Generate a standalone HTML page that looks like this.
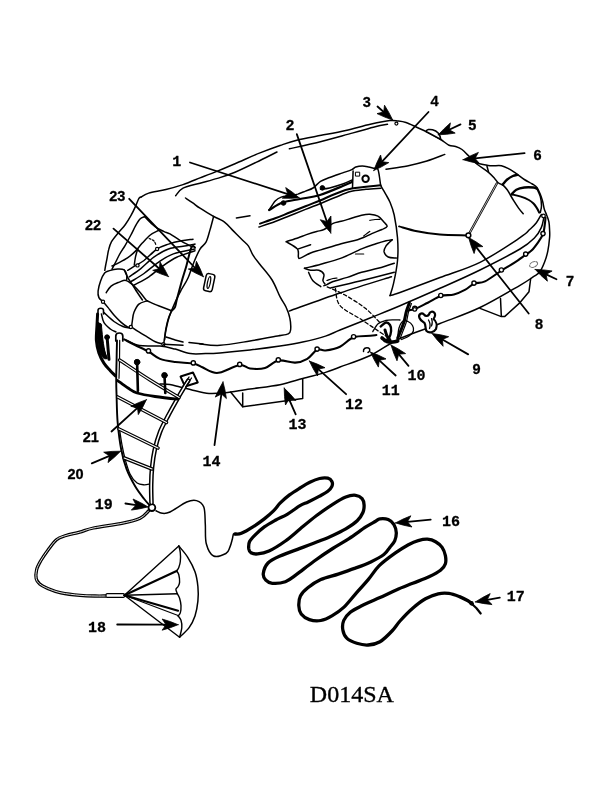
<!DOCTYPE html>
<html><head><meta charset="utf-8"><style>
html,body{margin:0;padding:0;background:#fff;}
body{width:612px;height:792px;overflow:hidden;}
svg{display:block;transform:translateZ(0);}
</style></head><body>
<svg width="612" height="792" viewBox="0 0 612 792" stroke-linecap="round" stroke-linejoin="round">
<path d="M235.0,534.0C236.1,533.9 238.4,534.5 241.4,533.3C244.4,532.1 249.1,529.3 252.9,526.9C256.7,524.5 260.9,521.6 264.3,518.9C267.7,516.2 270.8,513.6 273.5,510.9C276.2,508.2 277.6,505.6 280.3,502.9C283.0,500.2 286.2,497.4 289.5,494.9C292.8,492.4 296.6,490.1 300.0,488.0C303.4,485.9 306.5,483.9 309.8,482.3C313.1,480.7 316.6,479.2 319.6,478.5C322.6,477.8 325.8,477.7 327.8,478.2C329.9,478.7 331.2,480.0 331.9,481.4C332.6,482.8 332.6,484.7 331.9,486.3C331.2,487.9 329.9,489.6 327.8,491.2C325.8,492.8 322.9,494.3 319.6,496.1C316.3,497.9 311.5,500.3 308.2,501.9C304.9,503.5 303.5,503.6 300.0,505.7C296.5,507.8 291.2,511.9 287.2,514.3C283.2,516.7 279.6,517.9 275.8,520.0C272.0,522.1 267.7,524.4 264.3,526.9C260.9,529.4 257.7,532.4 255.2,534.9C252.7,537.4 250.6,539.4 249.5,541.8C248.4,544.1 248.6,547.2 248.8,549.0C249.1,550.8 249.5,552.0 251.0,552.8C252.5,553.6 254.6,554.2 257.6,553.9C260.6,553.6 264.4,553.1 269.0,551.0C273.6,548.9 280.2,544.7 285.4,541.0C290.6,537.3 294.9,533.2 300.0,529.0C305.1,524.8 310.9,519.9 316.3,515.8C321.8,511.7 327.8,507.4 332.7,504.3C337.6,501.2 342.0,498.5 345.8,497.0C349.6,495.5 352.9,495.0 355.6,495.3C358.3,495.6 360.7,497.0 362.1,498.6C363.5,500.2 364.0,502.8 364.1,505.1C364.2,507.4 364.0,509.9 362.9,512.5C361.8,515.1 360.0,518.0 357.2,520.7C354.4,523.4 349.9,526.3 345.8,528.8C341.7,531.2 337.0,533.4 332.7,535.4C328.4,537.4 325.4,538.6 320.0,540.8C314.6,543.0 306.7,545.9 300.0,548.4C293.3,550.9 285.3,553.6 280.0,556.0C274.7,558.4 270.8,560.1 268.0,563.0C265.2,565.9 263.7,570.6 263.3,573.5C262.9,576.4 264.3,578.5 265.8,580.1C267.3,581.7 269.0,583.0 272.3,583.3C275.6,583.6 281.4,583.1 285.4,581.7C289.4,580.3 291.5,578.2 296.3,574.7C301.1,571.2 308.2,565.4 314.3,561.0C320.4,556.6 326.9,552.2 332.7,548.5C338.5,544.8 343.6,542.1 349.0,538.6C354.4,535.1 361.0,530.1 365.4,527.2C369.8,524.4 372.8,522.9 375.2,521.5C377.6,520.1 377.8,519.1 380.0,518.8C382.2,518.5 385.9,518.6 388.2,519.6C390.5,520.6 392.5,522.3 393.9,524.5C395.2,526.7 396.2,530.0 396.3,532.7C396.4,535.4 395.8,538.3 394.7,540.8C393.6,543.2 391.6,545.1 389.8,547.4C388.0,549.7 387.1,552.1 383.9,554.5C380.7,556.9 375.7,559.6 370.8,561.9C365.9,564.2 359.9,566.4 354.5,568.4C349.1,570.4 343.8,572.2 338.2,574.1C332.6,576.0 325.9,577.3 320.8,579.6C315.7,581.9 311.2,585.1 307.8,587.8C304.4,590.5 301.9,593.0 300.4,596.0C298.9,599.0 298.7,602.8 298.8,605.8C298.9,608.8 299.4,611.6 301.2,613.9C303.0,616.2 306.1,618.5 309.4,619.6C312.7,620.7 317.0,621.2 320.8,620.5C324.6,619.8 328.5,617.8 332.3,615.6C336.1,613.4 339.9,611.0 343.7,607.4C347.5,603.8 351.1,598.9 355.2,594.3C359.3,589.7 364.2,584.3 368.2,579.6C372.2,574.9 374.5,570.4 379.0,565.9C383.5,561.4 390.5,556.4 395.4,552.9C400.3,549.4 404.6,546.8 408.4,544.7C412.2,542.7 415.0,541.5 418.2,540.6C421.4,539.7 424.5,539.0 427.4,539.2C430.3,539.4 433.2,540.3 435.6,541.7C438.1,543.1 440.5,545.1 442.1,547.4C443.7,549.7 444.8,552.9 445.4,555.6C445.9,558.3 446.2,561.2 445.4,563.7C444.6,566.2 443.2,568.1 440.5,570.3C437.8,572.5 433.6,574.6 429.0,576.8C424.4,579.0 418.1,581.1 412.7,583.3C407.2,585.5 401.8,587.5 396.3,589.9C390.9,592.3 385.8,595.0 380.0,597.6C374.2,600.2 366.6,603.3 361.7,605.8C356.8,608.2 353.3,609.8 350.3,612.3C347.3,614.8 344.9,617.5 343.7,620.5C342.5,623.5 342.3,627.3 342.9,630.3C343.4,633.3 344.7,636.2 347.0,638.4C349.3,640.6 353.3,642.2 356.8,643.3C360.3,644.4 364.3,645.3 368.2,645.0C372.1,644.7 376.0,644.0 380.0,641.7C384.0,639.4 388.7,634.5 392.0,631.0C395.3,627.5 396.6,624.8 400.0,621.0C403.4,617.2 408.4,611.9 412.7,608.2C416.9,604.5 421.2,601.1 425.5,598.7C429.8,596.3 434.3,594.7 438.2,593.8C442.1,592.9 445.3,592.9 448.9,593.4C452.4,593.9 456.3,595.4 459.5,596.6C462.7,597.8 465.9,599.6 468.0,600.8C470.1,602.0 471.5,603.5 472.2,604.0" fill="none" stroke="#000" stroke-width="3.3" />
<path d="M472.0,604.0 L476.5,608.2 L480.7,613.5" fill="none" stroke="#000" stroke-width="2.2" />
<circle cx="471.5" cy="603.2" r="1.6" fill="#000" stroke="#000" stroke-width="1.2"/>
<path d="M148.7,510.8C147.3,512.0 144.4,516.2 140.1,518.2C135.8,520.2 130.7,521.5 122.9,523.1C115.1,524.7 100.7,526.5 93.5,528.0C86.3,529.5 84.2,531.0 79.6,532.2C75.0,533.5 69.8,534.2 66.0,535.5C62.1,536.8 59.5,537.2 56.5,539.7C53.5,542.2 50.4,546.9 47.7,550.4C45.1,553.9 42.5,557.8 40.6,561.0C38.8,564.2 37.3,566.8 36.6,569.8C35.9,572.8 35.7,576.3 36.2,578.7C36.7,581.1 37.8,582.4 39.7,584.0C41.6,585.6 44.2,586.9 47.7,588.4C51.2,589.9 55.6,591.6 61.0,592.8C66.4,593.9 74.3,594.8 80.0,595.3C85.7,595.8 90.7,595.9 95.0,596.0C99.3,596.1 104.2,596.0 106.0,596.0" fill="none" stroke="#000" stroke-width="3.3" />
<path d="M148.7,510.8C147.3,512.0 144.4,516.2 140.1,518.2C135.8,520.2 130.7,521.5 122.9,523.1C115.1,524.7 100.7,526.5 93.5,528.0C86.3,529.5 84.2,531.0 79.6,532.2C75.0,533.5 69.8,534.2 66.0,535.5C62.1,536.8 59.5,537.2 56.5,539.7C53.5,542.2 50.4,546.9 47.7,550.4C45.1,553.9 42.5,557.8 40.6,561.0C38.8,564.2 37.3,566.8 36.6,569.8C35.9,572.8 35.7,576.3 36.2,578.7C36.7,581.1 37.8,582.4 39.7,584.0C41.6,585.6 44.2,586.9 47.7,588.4C51.2,589.9 55.6,591.6 61.0,592.8C66.4,593.9 74.3,594.8 80.0,595.3C85.7,595.8 90.7,595.9 95.0,596.0C99.3,596.1 104.2,596.0 106.0,596.0" fill="none" stroke="#fff" stroke-width="0.9" />
<path d="M156.0,510.8C157.0,511.2 159.9,513.1 162.2,513.3C164.5,513.5 165.9,513.9 170.0,512.0C174.1,510.1 182.3,503.9 186.7,502.0C191.1,500.1 193.7,499.8 196.5,500.6C199.3,501.4 202.3,503.1 203.8,507.0C205.3,510.9 204.9,518.0 205.3,524.1C205.7,530.2 204.9,538.4 206.3,543.7C207.7,549.0 210.3,554.4 213.6,556.0C216.9,557.6 223.2,554.9 225.9,553.5C228.6,552.1 228.7,549.8 229.8,547.4C230.9,545.0 231.7,541.4 232.3,539.2C232.9,537.0 233.0,534.8 233.5,534.0C234.0,533.2 235.2,534.4 235.5,534.5" fill="none" stroke="#000" stroke-width="1.5" />
<circle cx="151.9" cy="507.6" r="3.4" fill="#fff" stroke="#000" stroke-width="1.8"/>
<rect x="106" y="593.6" width="18.5" height="3.8" rx="1.2" fill="#fff" stroke="#000" stroke-width="1.2"/>
<path d="M178.8,546.0C180.3,547.9 184.9,552.8 187.6,557.1C190.3,561.4 193.3,566.9 195.0,571.8C196.7,576.7 197.4,581.6 197.9,586.5C198.4,591.4 198.4,596.3 197.9,601.2C197.4,606.1 196.5,611.5 195.0,615.9C193.5,620.3 191.7,624.0 189.1,627.6C186.5,631.2 181.2,635.6 179.6,637.2" fill="none" stroke="#000" stroke-width="1.5" />
<path d="M178.8,546.0C179.1,547.1 180.1,550.0 180.3,552.6C180.6,555.2 180.6,559.0 180.3,561.5C180.1,564.0 179.4,565.8 178.8,567.4C178.2,569.0 177.0,570.4 176.6,571.0" fill="none" stroke="#000" stroke-width="1.4" />
<path d="M176.6,571.0C177.0,571.6 178.3,572.9 178.8,574.7C179.3,576.6 179.7,580.1 179.6,582.1C179.5,584.1 178.7,585.3 178.1,586.5C177.5,587.7 176.0,588.2 175.9,589.4C175.8,590.6 177.2,593.1 177.4,593.8" fill="none" stroke="#000" stroke-width="1.4" />
<path d="M177.4,593.8C177.8,594.5 179.0,596.2 179.6,598.2C180.2,600.2 180.9,603.2 181.0,605.6C181.1,608.0 180.8,611.2 180.3,612.9C179.8,614.6 178.5,615.4 178.1,615.9" fill="none" stroke="#000" stroke-width="1.4" />
<path d="M178.1,615.9C178.6,616.6 180.4,618.3 181.0,620.3C181.6,622.2 182.0,624.8 181.8,627.6C181.6,630.4 180.0,635.6 179.6,637.2" fill="none" stroke="#000" stroke-width="1.4" />
<path d="M124.4,595.3 L178.8,546.0" fill="none" stroke="#000" stroke-width="1.4" />
<path d="M124.4,595.3 L176.6,571.0" fill="none" stroke="#000" stroke-width="2.2" />
<path d="M124.4,595.3 L177.4,593.8" fill="none" stroke="#000" stroke-width="1.4" />
<path d="M124.4,595.3 L178.1,610.7" fill="none" stroke="#000" stroke-width="2.2" />
<path d="M124.4,595.3 L178.1,615.5" fill="none" stroke="#000" stroke-width="1.2" />
<path d="M124.4,595.3 L179.6,637.2" fill="none" stroke="#000" stroke-width="1.4" />
<path d="M141.4,196.8C142.6,196.2 144.6,194.3 148.7,193.1C152.8,191.9 160.2,190.9 165.9,189.5C171.6,188.1 177.3,186.5 183.0,184.6C188.7,182.7 194.3,180.2 200.0,177.9C205.7,175.7 211.6,173.5 217.4,171.1C223.2,168.7 227.9,166.7 235.0,163.7C242.1,160.7 252.5,155.9 260.0,152.9C267.5,149.9 273.9,147.6 280.0,145.5C286.1,143.4 289.9,141.9 296.8,140.2C303.7,138.5 313.1,136.9 321.3,135.3C329.5,133.7 337.6,132.2 345.8,130.4C354.0,128.6 363.0,125.9 370.3,124.3C377.6,122.7 385.3,121.1 389.9,120.6C394.5,120.0 395.3,120.7 398.0,121.0C400.7,121.3 402.9,121.5 406.0,122.5C409.1,123.5 413.3,125.7 416.6,127.2C419.9,128.7 423.3,130.2 426.0,131.5C428.7,132.8 430.5,133.7 433.0,135.0C435.5,136.3 438.1,137.8 440.8,139.5C443.5,141.2 446.5,144.0 449.0,145.2C451.5,146.4 453.4,145.8 455.6,146.5C457.8,147.2 459.8,147.9 462.0,149.5C464.2,151.1 466.1,153.4 468.6,155.8C471.1,158.2 473.5,161.3 476.8,164.0C480.1,166.7 485.2,169.7 488.2,172.1C491.2,174.5 493.1,176.9 494.8,178.7C496.5,180.5 497.1,181.9 498.5,183.0C499.9,184.1 502.5,184.8 503.3,185.1" fill="none" stroke="#000" stroke-width="1.5" />
<path d="M175.7,195.6C176.9,194.4 178.9,190.3 183.0,188.2C187.1,186.1 194.3,184.8 200.0,183.2C205.7,181.6 211.6,180.2 217.4,178.4C223.2,176.6 227.9,175.3 235.0,172.3C242.1,169.3 253.0,163.9 260.0,160.5C267.0,157.1 274.2,153.4 277.0,152.0" fill="none" stroke="#000" stroke-width="1.5" />
<path d="M289.4,148.8C294.7,147.6 310.7,144.2 321.3,141.5C331.9,138.8 344.1,135.3 353.1,132.9C362.1,130.5 369.5,128.2 375.2,126.8C380.9,125.4 385.4,124.7 387.5,124.3" fill="none" stroke="#000" stroke-width="1.5" />
<path d="M185.5,198.0C186.7,198.8 190.4,201.2 192.8,202.9C195.2,204.6 196.5,205.9 200.0,208.2C203.5,210.5 211.3,215.1 213.6,216.5" fill="none" stroke="#000" stroke-width="1.5" />
<path d="M213.6,216.5C213.0,218.7 211.3,225.6 210.0,229.9C208.7,234.2 207.7,239.0 206.0,242.2C204.3,245.4 202.0,245.8 200.0,249.1C198.0,252.4 196.0,257.2 194.0,262.0C192.0,266.8 190.1,273.3 188.0,278.0C185.9,282.7 183.3,286.0 181.2,290.0C179.1,294.0 177.2,297.6 175.2,302.1C173.2,306.7 170.6,312.8 169.1,317.3C167.6,321.9 166.9,325.6 166.1,329.4C165.3,333.2 164.8,338.2 164.5,340.0" fill="none" stroke="#000" stroke-width="1.5" />
<path d="M213.6,216.5C215.4,217.4 220.9,219.4 224.2,221.8C227.5,224.2 230.3,227.9 233.3,230.9C236.3,233.9 239.9,237.5 242.4,240.0C244.9,242.5 246.7,243.6 248.5,246.1C250.3,248.6 251.1,252.1 253.0,255.2C254.9,258.3 256.8,260.4 260.0,264.5C263.2,268.6 268.8,274.6 272.1,280.0C275.4,285.4 277.7,292.1 280.0,296.7C282.3,301.2 284.5,303.8 286.1,307.3C287.7,310.8 289.1,314.1 289.8,317.9C290.6,321.7 290.9,327.4 290.6,330.0C290.4,332.6 290.1,332.9 288.3,333.8C286.5,334.7 281.4,335.2 280.0,335.5" fill="none" stroke="#000" stroke-width="1.5" />
<path d="M236.4,218.0 L250.0,215.8" fill="none" stroke="#000" stroke-width="1.5" />
<path d="M166.1,337.0C167.6,337.5 172.4,339.2 175.2,340.0C178.0,340.8 181.7,341.7 183.0,342.0" fill="none" stroke="#000" stroke-width="1.5" />
<path d="M199.4,343.8C202.8,344.1 211.6,345.8 220.0,345.3C228.4,344.8 240.0,342.6 250.0,341.0C260.0,339.4 275.0,336.4 280.0,335.5" fill="none" stroke="#000" stroke-width="1.5" />
<path d="M289.1,311.1C297.6,308.1 322.9,298.7 340.0,293.0C357.1,287.3 382.9,279.4 391.5,276.7" fill="none" stroke="#000" stroke-width="1.5" />
<path d="M380.6,185.3C381.5,186.8 384.2,191.6 385.8,194.4C387.4,197.2 388.6,198.9 390.0,202.3C391.4,205.7 392.9,209.1 394.2,215.0C395.4,220.9 396.9,230.2 397.5,237.8C398.1,245.4 398.2,253.1 397.5,260.7C396.8,268.3 394.8,277.8 393.5,283.6C392.2,289.4 390.6,293.6 390.0,295.6" fill="none" stroke="#000" stroke-width="1.5" />
<path d="M390.0,295.6C391.7,295.1 391.7,295.5 400.0,292.5C408.3,289.5 426.7,282.5 440.0,277.5C453.3,272.5 466.7,268.9 480.0,262.3C493.3,255.7 511.7,243.2 520.0,237.7C528.3,232.2 527.2,231.8 529.9,229.3C532.6,226.8 534.5,225.2 536.4,222.7C538.3,220.2 540.5,215.9 541.3,214.5" fill="none" stroke="#000" stroke-width="1.5" />
<path d="M386.0,169.2C389.6,168.6 400.5,167.3 407.3,165.9C414.1,164.5 420.6,162.9 426.9,161.0C433.1,159.1 441.8,155.5 444.8,154.4" fill="none" stroke="#000" stroke-width="1.5" />
<path d="M399.1,226.4C402.1,227.2 410.3,229.9 417.1,231.3C423.9,232.7 431.4,233.9 439.9,234.6C448.4,235.3 463.5,235.3 468.2,235.5" fill="none" stroke="#000" stroke-width="2.0" />
<path d="M468.2,235.5 L496.8,183.5" fill="none" stroke="#000" stroke-width="2.4" />
<path d="M468.2,235.5 L496.8,183.5" fill="none" stroke="#fff" stroke-width="0.7" />
<circle cx="468.4" cy="235.3" r="2.4" fill="#fff" stroke="#000" stroke-width="1.5"/>
<path d="M426,131.5 C426.5,129.5 429.5,129 432.5,129.8 C436.5,130.8 440,133.5 440.8,139.5 Z" fill="#fff" stroke="#000" stroke-width="1.5" />
<path d="M476.3,163.1C478.6,163.5 485.8,165.3 490.0,165.7C494.2,166.1 498.1,165.1 501.4,165.7C504.6,166.3 507.0,167.9 509.5,169.2C512.0,170.5 513.8,172.0 516.3,173.7C518.8,175.4 521.6,177.8 524.3,179.5C527.0,181.2 530.2,182.7 532.3,184.0C534.4,185.3 535.6,185.8 536.9,187.5C538.2,189.2 539.3,192.0 540.3,194.3C541.2,196.6 541.9,198.7 542.6,201.2C543.3,203.7 543.6,206.9 544.3,209.2C545.0,211.5 545.8,212.8 546.6,214.9C547.4,217.0 548.4,219.3 548.9,221.8C549.4,224.3 549.5,227.4 549.6,230.0C549.7,232.6 549.9,234.1 549.6,237.5C549.3,240.9 548.7,246.5 547.9,250.6C547.1,254.7 546.0,258.5 544.6,262.1C543.2,265.7 541.6,269.5 539.7,272.0C537.8,274.5 536.4,274.7 533.1,276.9C529.8,279.1 528.9,280.2 520.0,285.3C511.1,290.4 493.3,301.1 480.0,307.5C466.7,313.9 453.3,318.3 440.0,323.5C426.7,328.7 411.6,333.2 400.0,338.5C388.4,343.8 380.3,350.8 370.3,355.5C360.3,360.2 347.5,364.2 340.0,367.0C332.5,369.8 331.7,370.5 325.5,372.4C319.3,374.3 310.3,376.4 302.7,378.5C295.1,380.6 288.8,382.9 280.0,384.7C271.2,386.4 259.1,387.7 250.0,389.0C240.9,390.3 232.2,391.9 225.4,392.7C218.6,393.4 214.4,393.9 209.0,393.5C203.6,393.1 197.5,391.3 192.7,390.2C187.9,389.1 183.8,387.9 180.0,387.0C176.2,386.1 173.1,385.0 169.8,384.5C166.5,384.0 161.6,384.1 160.0,384.0" fill="none" stroke="#000" stroke-width="1.5" />
<path d="M487.0,166.3 L488.6,172.1" fill="none" stroke="#000" stroke-width="1.5" />
<path d="M502.6,184.6C503.4,183.8 505.5,180.9 507.2,179.5C508.9,178.1 511.2,176.8 512.9,176.0C514.6,175.2 516.7,175.1 517.5,174.9" fill="none" stroke="#000" stroke-width="2.4" />
<path d="M511.7,194.3C512.5,193.5 514.2,190.8 516.3,189.7C518.4,188.6 521.4,187.9 524.3,187.5C527.2,187.1 531.4,187.3 533.5,187.5C535.6,187.7 536.3,188.4 536.9,188.6" fill="none" stroke="#000" stroke-width="2.4" />
<path d="M511.7,194.3C513.2,194.7 518.0,195.7 520.9,196.6C523.8,197.5 526.8,198.8 528.9,200.0C531.0,201.2 532.2,202.2 533.5,203.5C534.8,204.8 535.9,206.6 536.9,208.1C537.9,209.6 538.8,211.8 539.2,212.6" fill="none" stroke="#000" stroke-width="2.0" />
<path d="M502.6,184.6C503.4,185.4 505.9,187.9 507.2,189.7C508.5,191.5 509.5,193.6 510.6,195.5C511.7,197.4 512.7,199.1 514.0,201.2C515.3,203.3 517.1,206.0 518.6,208.1C520.1,210.2 522.4,212.9 523.2,213.8" fill="none" stroke="#000" stroke-width="1.5" />
<path d="M536.9,188.6C537.5,189.9 539.5,193.7 540.3,196.6C541.1,199.5 541.5,203.1 541.5,205.8C541.5,208.5 540.5,211.5 540.3,212.6" fill="none" stroke="#000" stroke-width="1.5" />
<path d="M126.5,340.2C128.7,341.1 133.8,344.5 139.4,345.5C145.0,346.5 154.0,345.5 160.0,346.1C166.0,346.7 170.1,347.9 175.2,349.1C180.2,350.4 185.2,352.9 190.3,353.6C195.4,354.4 200.6,353.7 205.5,353.6C210.4,353.5 212.6,353.5 220.0,352.9C227.4,352.3 240.0,351.1 250.0,350.0C260.0,348.9 271.2,347.4 280.0,346.1C288.8,344.8 295.1,343.8 302.7,342.1C310.3,340.4 319.3,338.1 325.5,336.1C331.7,334.1 332.6,333.0 340.0,330.0C347.4,327.0 360.0,322.1 370.0,318.0C380.0,313.9 388.3,310.6 400.0,305.7C411.7,300.8 426.7,294.2 440.0,288.3C453.3,282.4 466.7,276.6 480.0,270.0C493.3,263.4 510.9,254.4 520.0,249.0C529.1,243.6 531.2,241.1 534.8,237.5C538.3,233.9 539.8,230.9 541.3,227.6C542.8,224.3 543.4,219.4 543.8,217.8" fill="none" stroke="#000" stroke-width="1.5" />
<path d="M124.2,339.4C126.0,340.3 130.9,343.0 135.0,345.0C139.1,347.0 144.3,349.2 148.5,351.5C152.7,353.8 155.6,357.1 160.0,358.9C164.4,360.6 169.6,361.2 175.2,362.0C180.8,362.8 188.8,362.6 193.3,363.5C197.8,364.4 199.4,365.9 202.4,367.3C205.4,368.7 208.6,370.9 211.5,371.8C214.4,372.7 215.3,373.7 220.0,372.6C224.7,371.5 234.7,365.7 239.7,365.0C244.7,364.3 245.8,368.0 250.0,368.5C254.2,369.0 260.3,369.3 265.0,368.0C269.7,366.7 273.3,361.4 278.3,360.5C283.3,359.6 290.4,362.9 295.2,362.6C300.0,362.3 303.6,361.0 307.3,358.8C311.0,356.6 314.1,351.1 317.1,349.7C320.1,348.3 321.7,351.0 325.5,350.5C329.3,350.0 335.3,348.9 340.0,346.7C344.7,344.5 348.6,339.1 353.6,337.3C358.7,335.5 366.5,336.2 370.3,335.8C374.1,335.4 375.4,335.1 376.4,335.0" fill="none" stroke="#000" stroke-width="2.1" />
<path d="M408.0,310.5C409.1,310.2 411.5,310.3 414.8,309.0C418.1,307.7 423.5,304.8 427.8,302.7C432.1,300.6 436.5,297.5 440.8,296.1C445.1,294.7 449.8,295.6 453.9,294.5C458.0,293.4 462.0,291.4 465.4,289.6C468.8,287.8 470.7,285.1 474.0,283.7C477.3,282.3 480.4,283.6 485.0,281.4C489.6,279.2 496.5,273.7 501.4,270.6C506.3,267.5 510.4,265.4 514.5,262.7C518.5,260.0 522.9,256.7 525.7,254.7C528.5,252.7 529.4,252.6 531.5,250.6C533.6,248.6 536.2,245.1 538.1,242.4C540.0,239.7 541.9,236.9 543.0,234.2C544.1,231.5 544.2,228.7 544.6,226.0C545.0,223.3 545.4,219.2 545.5,217.8" fill="none" stroke="#000" stroke-width="2.1" />
<circle cx="148.5" cy="350.9" r="2.1" fill="#fff" stroke="#000" stroke-width="1.4"/>
<circle cx="193.3" cy="362.9" r="2.1" fill="#fff" stroke="#000" stroke-width="1.4"/>
<circle cx="239.7" cy="364.4" r="2.1" fill="#fff" stroke="#000" stroke-width="1.4"/>
<circle cx="278.3" cy="359.9" r="2.1" fill="#fff" stroke="#000" stroke-width="1.4"/>
<circle cx="317.1" cy="349.09999999999997" r="2.1" fill="#fff" stroke="#000" stroke-width="1.4"/>
<circle cx="353.6" cy="336.7" r="2.1" fill="#fff" stroke="#000" stroke-width="1.4"/>
<circle cx="414.8" cy="308.4" r="2.1" fill="#fff" stroke="#000" stroke-width="1.4"/>
<circle cx="440.8" cy="295.5" r="2.1" fill="#fff" stroke="#000" stroke-width="1.4"/>
<circle cx="474" cy="283.09999999999997" r="2.1" fill="#fff" stroke="#000" stroke-width="1.4"/>
<circle cx="501.4" cy="270.0" r="2.1" fill="#fff" stroke="#000" stroke-width="1.4"/>
<circle cx="525.7" cy="254.1" r="2.1" fill="#fff" stroke="#000" stroke-width="1.4"/>
<circle cx="543" cy="233.6" r="2.1" fill="#fff" stroke="#000" stroke-width="1.4"/>
<circle cx="543.5" cy="216" r="1.8" fill="#fff" stroke="#000" stroke-width="1.3"/>
<path d="M286.1,241.7C288.2,241.0 295.0,238.9 298.4,237.7C301.8,236.5 303.4,235.6 306.5,234.6C309.6,233.6 313.8,232.3 316.7,231.5C319.6,230.7 321.3,230.8 324.0,229.5C326.7,228.2 330.2,224.8 333.1,223.4C336.0,222.0 338.1,222.2 341.2,221.3C344.2,220.5 348.0,219.3 351.4,218.3C354.8,217.3 358.5,215.9 361.6,215.2C364.7,214.5 367.1,214.0 369.8,214.2C372.5,214.4 375.6,214.8 378.0,216.2C380.4,217.5 382.6,220.6 384.1,222.3C385.6,224.0 387.5,225.2 387.1,226.4C386.8,227.6 384.6,228.3 382.0,229.5C379.4,230.7 374.5,232.4 371.8,233.6C369.1,234.8 368.1,235.6 365.7,236.6C363.3,237.6 361.7,238.5 357.6,239.7C353.5,240.9 347.3,242.1 341.2,243.8C335.1,245.5 325.9,248.4 320.8,249.9C315.7,251.4 314.0,251.6 310.6,253.0C307.2,254.4 302.4,257.4 300.4,258.1C298.4,258.8 298.9,258.5 298.4,257.0C297.9,255.5 299.4,251.5 297.3,248.9C295.2,246.3 288.0,242.9 286.1,241.7" fill="none" stroke="#000" stroke-width="1.5" />
<path d="M298.4,248.9 L310.6,244.8" fill="none" stroke="#000" stroke-width="1.5" />
<path d="M363.7,236.0C364.2,235.6 366.0,234.2 367.0,233.5C368.0,232.8 369.3,231.8 369.8,231.5" fill="none" stroke="#000" stroke-width="1.2" />
<path d="M369.8,220.3C370.7,220.2 373.3,219.7 375.0,219.5C376.7,219.3 379.2,219.3 380.0,219.3" fill="none" stroke="#000" stroke-width="1.2" />
<path d="M304.5,268.3C307.2,267.6 314.7,265.9 320.8,264.2C326.9,262.5 334.4,260.7 341.2,258.1C348.0,255.6 355.8,251.3 361.6,248.9C367.4,246.5 371.8,245.2 375.9,243.8C380.0,242.4 383.4,241.4 386.1,240.7C388.8,240.0 391.2,239.9 392.2,239.7" fill="none" stroke="#000" stroke-width="1.5" />
<path d="M392.2,239.7C391.2,240.7 387.5,243.8 386.1,245.8C384.8,247.8 383.8,250.0 384.1,251.9C384.5,253.8 386.2,256.0 388.2,257.0C390.2,258.0 394.9,257.9 396.3,258.1" fill="none" stroke="#000" stroke-width="1.5" />
<path d="M394.3,263.2C391.6,264.1 383.4,266.8 378.0,268.3C372.6,269.8 366.7,270.8 361.6,272.3C356.5,273.8 352.1,275.9 347.3,277.4C342.6,278.9 336.5,280.3 333.1,281.5C329.7,282.7 328.4,283.9 326.9,284.6C325.4,285.3 324.4,285.4 323.9,285.6" fill="none" stroke="#000" stroke-width="1.5" />
<path d="M304.5,268.3C305.5,268.6 308.2,270.0 310.6,270.3C313.0,270.6 316.6,269.6 318.8,270.3C321.0,271.0 323.2,272.7 323.9,274.4C324.6,276.1 322.7,278.9 322.9,280.5C323.1,282.1 324.6,283.4 325.0,284.0" fill="none" stroke="#000" stroke-width="1.5" />
<path d="M308.6,272.3C309.3,273.7 310.7,278.1 312.7,280.5C314.7,282.9 319.4,285.6 320.8,286.6" fill="none" stroke="#000" stroke-width="1.5" />
<path d="M355.5,254.0 L363.7,254.0" fill="none" stroke="#000" stroke-width="1.2" />
<path d="M326.9,280.5C327.9,280.2 331.3,278.9 333.0,278.5C334.7,278.1 336.3,278.1 337.0,278.0" fill="none" stroke="#000" stroke-width="1.2" />
<path d="M331.0,287.7C335.8,286.6 349.4,283.6 360.0,281.0C370.6,278.4 388.6,273.8 394.3,272.3" fill="none" stroke="#000" stroke-width="1.5" />
<path d="M327.2,286.9C330.1,288.2 338.2,291.3 344.5,294.8C350.8,298.3 358.9,303.2 365.0,308.0C371.1,312.8 378.2,321.0 380.9,323.6" fill="none" stroke="#000" stroke-width="1.3" stroke-dasharray="3.5,2.5"/>
<path d="M335.4,288.5C336.2,291.3 335.6,300.2 340.0,305.5C344.4,310.8 354.4,314.9 362.0,320.0C369.6,325.1 381.6,333.2 385.5,335.8" fill="none" stroke="#000" stroke-width="1.3" stroke-dasharray="3.5,2.5"/>
<path d="M269.1,210.0C270.1,208.5 273.2,203.1 275.2,200.9C277.2,198.8 278.7,198.0 281.2,197.1C283.7,196.2 287.5,196.1 290.3,195.6C293.1,195.1 295.4,194.8 297.9,194.1C300.4,193.3 303.0,192.1 305.5,191.1C308.0,190.1 310.5,189.6 313.0,188.0C315.5,186.4 317.7,183.2 320.5,181.4C323.3,179.7 325.9,178.9 329.6,177.5C333.3,176.1 339.0,174.2 342.7,172.9C346.4,171.6 349.6,170.6 351.8,169.6C354.0,168.6 354.1,167.6 355.8,167.0C357.6,166.4 360.1,166.0 362.3,166.0C364.5,166.0 366.8,166.6 368.8,167.0C370.8,167.4 372.6,167.9 374.1,168.3C375.6,168.7 376.9,166.8 378.0,169.6C379.1,172.4 380.2,182.7 380.6,185.3" fill="none" stroke="#000" stroke-width="1.5" />
<path d="M353.1,170.9 L352.5,187.9" fill="none" stroke="#000" stroke-width="1.5" />
<path d="M260.0,223.6C262.5,222.7 270.1,220.2 275.2,218.3C280.2,216.4 285.2,214.3 290.3,212.3C295.4,210.3 300.6,208.2 305.5,206.2C310.4,204.2 315.1,202.5 320.0,200.5C324.9,198.5 329.7,196.0 335.0,194.0C340.3,192.0 344.2,190.0 351.8,188.6C359.4,187.2 375.8,185.9 380.6,185.3" fill="none" stroke="#000" stroke-width="2.0" />
<path d="M259.0,227.0C261.7,226.1 270.0,223.4 275.2,221.5C280.4,219.6 285.2,217.5 290.3,215.5C295.4,213.5 300.6,211.4 305.5,209.4C310.4,207.4 315.1,205.7 320.0,203.7C324.9,201.7 329.9,199.5 335.0,197.5C340.1,195.5 345.3,192.9 350.5,191.5C355.7,190.1 360.9,189.9 366.0,189.3C371.1,188.8 378.5,188.4 381.0,188.2" fill="none" stroke="#000" stroke-width="1.5" />
<path d="M269.1,210.0C271.4,208.8 277.6,204.3 282.7,202.5C287.8,200.7 293.8,200.2 300.0,199.0C306.2,197.8 312.9,197.2 320.0,195.0C327.1,192.8 337.4,188.2 342.7,186.0C348.0,183.8 350.3,182.7 351.8,182.0" fill="none" stroke="#000" stroke-width="2.2" />
<path d="M320.5,189.2C322.0,189.0 325.9,188.8 329.6,187.9C333.3,187.0 339.0,185.3 342.7,184.0C346.4,182.7 350.3,180.8 351.8,180.1" fill="none" stroke="#000" stroke-width="1.5" />
<circle cx="283.5" cy="203" r="2.3" fill="#000" stroke="#000" stroke-width="1"/>
<circle cx="322.4" cy="187.9" r="2.3" fill="#000" stroke="#000" stroke-width="1"/>
<circle cx="365.6" cy="178.8" r="3.2" fill="#fff" stroke="#000" stroke-width="2.0"/>
<rect x="355.8" y="172.2" width="3.9" height="3.9" fill="none" stroke="#000" stroke-width="1"/>
<path d="M230.6,392.0 L242.7,406.7 L302.7,398.5 L302.7,379.0" fill="none" stroke="#000" stroke-width="1.5" />
<path d="M242.7,393.0 L242.7,406.7" fill="none" stroke="#000" stroke-width="1.5" />
<path d="M480.0,308.4 L501.3,316.6 L504.6,316.6 L520.0,302.6 L529.0,291.7 L530.7,278.5" fill="none" stroke="#000" stroke-width="1.5" />
<path d="M500.5,298.5 L501.3,315.8" fill="none" stroke="#000" stroke-width="1.5" />
<circle cx="396.4" cy="123.6" r="1.5" fill="#fff" stroke="#000" stroke-width="1.2"/>
<path d="M141.4,196.8C141.0,197.1 139.9,196.8 138.9,198.4C137.9,200.0 136.8,203.5 135.5,206.4C134.2,209.3 132.6,212.6 130.9,215.6C129.2,218.6 127.3,221.8 125.2,224.7C123.1,227.6 120.6,229.9 118.3,232.8C116.0,235.7 113.0,239.1 111.4,241.9C109.8,244.8 109.3,247.0 108.6,249.9C107.8,252.8 107.4,256.6 106.9,259.1C106.4,261.6 106.1,263.1 105.7,265.0C105.3,266.9 105.0,269.4 104.8,270.3" fill="none" stroke="#000" stroke-width="1.5" />
<path d="M144.6,216.7C143.8,217.1 141.5,217.5 140.0,219.0C138.5,220.5 137.0,223.2 135.5,225.9C134.0,228.6 132.6,231.8 130.9,235.0C129.2,238.2 127.1,242.1 125.2,245.3C123.3,248.6 121.2,251.4 119.5,254.5C117.8,257.6 116.2,261.2 114.9,263.6C113.7,266.0 112.5,268.1 112.0,269.0" fill="none" stroke="#000" stroke-width="1.5" />
<path d="M144.6,216.7C145.8,217.8 149.4,221.7 151.5,223.6C153.6,225.5 155.1,226.9 157.2,228.2C159.3,229.5 162.0,230.6 164.1,231.6C166.2,232.6 167.3,232.4 170.0,233.9C172.7,235.4 176.3,238.1 180.0,240.3C183.7,242.5 190.0,245.8 192.0,246.9" fill="none" stroke="#000" stroke-width="1.5" />
<path d="M158.4,230.5C157.1,231.2 153.0,232.9 150.3,235.0C147.6,237.1 144.8,240.4 142.3,243.1C139.8,245.8 138.0,248.6 135.5,251.1C133.0,253.6 130.6,255.8 127.5,257.9C124.5,260.0 119.8,262.2 117.2,263.6C114.6,265.0 112.9,265.6 112.0,266.0" fill="none" stroke="#000" stroke-width="1.5" />
<path d="M137.8,248.8C137.4,250.1 136.1,254.1 135.5,256.8C134.9,259.5 134.5,263.6 134.3,265.0" fill="none" stroke="#000" stroke-width="1.5" />
<path d="M127.7,270.3C129.1,269.5 133.1,267.0 135.8,265.4C138.5,263.8 140.4,263.2 144.0,260.5C147.6,257.8 153.0,251.7 157.1,249.0C161.2,246.3 164.4,245.5 168.5,244.1C172.6,242.7 177.5,241.6 181.6,240.8C185.7,240.0 191.1,239.5 193.0,239.2" fill="none" stroke="#000" stroke-width="1.5" />
<path d="M129.3,276.8C131.2,275.4 136.7,271.9 140.8,268.6C144.9,265.3 149.2,260.5 153.8,257.2C158.4,253.9 163.1,250.9 168.5,249.0C173.9,247.1 182.1,246.6 186.5,245.8C190.9,245.0 193.6,244.4 195.0,244.1" fill="none" stroke="#000" stroke-width="1.5" />
<path d="M130.9,281.7C133.1,280.3 139.4,276.8 144.0,273.5C148.6,270.2 153.8,265.4 158.7,262.1C163.6,258.8 167.3,256.1 173.4,253.9C179.5,251.7 191.4,249.8 195.0,249.0" fill="none" stroke="#000" stroke-width="1.5" />
<path d="M134.2,285.0C136.6,283.6 144.0,280.1 148.9,276.8C153.8,273.5 159.0,268.7 163.6,265.4C168.2,262.1 171.5,259.6 176.7,257.2C181.9,254.8 191.9,251.8 195.0,250.7" fill="none" stroke="#000" stroke-width="1.5" />
<path d="M149.2,238.5C150.0,238.9 152.7,239.7 153.8,240.8C155.0,241.9 155.7,244.6 156.1,245.3" fill="none" stroke="#000" stroke-width="1.2" stroke-dasharray="2,1.5"/>
<circle cx="137.5" cy="265.4" r="1.6" fill="#fff" stroke="#000" stroke-width="1.2"/>
<circle cx="157.1" cy="249" r="1.6" fill="#fff" stroke="#000" stroke-width="1.2"/>
<path d="M124.4,270.3C125.0,271.6 126.6,275.6 128.0,278.0C129.4,280.4 131.1,282.7 132.6,285.0C134.1,287.3 135.4,289.5 137.0,292.0C138.6,294.5 141.5,298.7 142.4,300.0" fill="none" stroke="#000" stroke-width="1.5" />
<path d="M195.0,247.4C194.4,247.4 192.8,244.4 191.4,247.4C190.0,250.4 188.1,259.7 186.5,265.4C184.9,271.1 183.2,275.9 181.6,281.7C180.0,287.5 177.8,295.7 176.7,300.0C175.6,304.3 175.8,305.6 174.9,307.4C174.1,309.2 172.2,310.1 171.6,310.7" fill="none" stroke="#000" stroke-width="2.0" />
<path d="M126.7,279.6C126.7,278.8 127.1,276.3 126.7,274.7C126.3,273.1 125.7,270.8 124.2,269.8C122.7,268.9 120.2,268.9 117.7,269.0C115.2,269.1 111.7,269.9 109.5,270.6C107.3,271.3 106.1,271.3 104.6,273.1C103.1,274.9 101.6,278.2 100.5,281.2C99.4,284.2 98.4,288.3 98.1,291.0C97.8,293.7 98.1,295.8 98.9,297.6C99.7,299.4 102.3,301.0 103.0,301.7" fill="none" stroke="#000" stroke-width="1.5" />
<path d="M106.2,292.7C107.0,291.6 108.9,287.9 111.1,286.1C113.3,284.3 116.8,283.1 119.3,282.1C121.8,281.2 123.6,280.0 125.8,280.4C128.0,280.8 130.2,282.7 132.4,284.5C134.6,286.3 136.7,288.6 138.9,291.0C141.1,293.4 144.1,297.6 145.5,299.2C146.9,300.8 146.8,300.5 147.1,300.8" fill="none" stroke="#000" stroke-width="1.5" />
<path d="M103.8,302.5C104.5,303.3 106.1,305.2 107.9,307.4C109.7,309.6 112.2,313.2 114.4,315.6C116.6,318.1 118.7,320.2 120.9,322.1C123.1,324.0 125.8,326.1 127.5,327.0C129.2,327.9 130.4,327.4 131.0,327.5" fill="none" stroke="#000" stroke-width="1.5" />
<path d="M147.1,300.8C145.7,301.4 141.1,302.2 138.9,304.1C136.7,306.0 135.1,309.6 134.0,312.3C132.9,315.0 132.8,318.1 132.4,320.5C132.0,322.9 131.7,325.9 131.6,327.0" fill="none" stroke="#000" stroke-width="1.5" />
<path d="M147.1,300.8C149.0,301.6 154.4,304.2 158.5,305.8C162.6,307.4 169.4,309.9 171.6,310.7" fill="none" stroke="#000" stroke-width="1.5" />
<path d="M171.6,310.7C171.1,312.1 169.2,315.8 168.3,318.8C167.4,321.8 166.6,325.1 165.9,328.6C165.2,332.2 164.7,337.5 164.3,340.1C163.9,342.7 163.6,343.5 163.4,344.2" fill="none" stroke="#000" stroke-width="1.5" />
<path d="M131.6,327.0C132.8,327.8 136.3,330.3 138.9,331.9C141.5,333.5 144.4,335.2 147.1,336.8C149.8,338.4 152.6,340.5 155.3,341.7C158.0,342.9 162.1,343.8 163.4,344.2" fill="none" stroke="#000" stroke-width="1.5" />
<circle cx="103" cy="301.7" r="1.6" fill="#fff" stroke="#000" stroke-width="1.2"/>
<circle cx="130.8" cy="327" r="1.6" fill="#fff" stroke="#000" stroke-width="1.2"/>
<circle cx="163.4" cy="344.2" r="1.6" fill="#fff" stroke="#000" stroke-width="1.2"/>
<path d="M163.4,344.2L183.0,345.2" fill="none" stroke="#000" stroke-width="1.5" />
<path d="M189.0,342.6 L203.0,344.0" fill="none" stroke="#000" stroke-width="1.5" />
<path d="M101.4,313.9C101.8,315.4 102.5,320.2 104.0,322.7C105.5,325.2 108.3,327.4 110.3,329.0C112.3,330.6 115.0,331.5 116.0,332.0" fill="none" stroke="#000" stroke-width="1.5" />
<path d="M104.0,312.6C105.7,314.1 110.8,319.2 114.0,321.5C117.2,323.8 120.4,325.4 122.9,326.5C125.4,327.6 128.1,327.6 129.2,327.8" fill="none" stroke="#000" stroke-width="1.5" />
<path d="M98,314 L98,310.5 C98,307.5 103.5,307.5 103.5,310.5 L103.5,314" fill="none" stroke="#000" stroke-width="1.6" />
<path d="M97.6,313.9C97.5,315.8 97.2,320.9 97.0,325.3C96.8,329.7 96.1,335.8 96.4,340.4C96.7,345.0 97.7,349.2 98.9,353.0C100.2,356.8 102.0,360.2 103.9,363.1C105.8,366.1 108.4,368.6 110.3,370.7C112.2,372.8 114.5,374.9 115.3,375.8" fill="none" stroke="#000" stroke-width="3.0" />
<path d="M97.5,322 C97,335 97.5,346 100.5,354 C102.5,358 105,360 106.5,358 C104,350 102.5,338 101.5,326 Z" fill="#000" stroke="#000" stroke-width="1.0" />
<path d="M99.5,325.3C99.8,327.4 100.3,333.9 101.0,338.0C101.7,342.1 102.6,346.7 103.5,350.0C104.4,353.3 106.0,356.7 106.5,358.0" fill="none" stroke="#000" stroke-width="2.6" />
<path d="M107.1,337.2C107.2,339.0 107.7,344.3 108.0,348.0C108.3,351.7 108.8,357.4 109.0,359.3" fill="none" stroke="#000" stroke-width="3.0" />
<circle cx="99.5" cy="325.3" r="2.1" fill="#000" stroke="#000" stroke-width="1"/>
<circle cx="107.1" cy="337.2" r="2.4" fill="#000" stroke="#000" stroke-width="1"/>
<path d="M115.8,341 L115.8,336 C115.8,332 122.8,332 122.8,336 L122.8,341" fill="none" stroke="#000" stroke-width="1.7" />
<path d="M180.5,376.5 L193,372.5 L197.8,382.5 L185,386.5 Z" fill="#fff" stroke="#000" stroke-width="1.9" stroke-linejoin="round"/>
<path d="M117.0,340.4C116.9,343.6 116.7,353.0 116.6,359.4C116.5,365.8 116.2,372.8 116.2,379.0C116.2,385.2 116.3,389.2 116.6,396.5C116.8,403.8 116.9,414.2 117.7,423.0C118.5,431.8 119.7,441.9 121.2,449.5C122.7,457.1 124.2,462.7 126.5,468.9C128.8,475.1 132.4,481.6 135.3,486.6C138.2,491.6 141.8,495.9 144.2,499.0C146.6,502.1 148.6,504.2 149.5,505.2" fill="none" stroke="#000" stroke-width="1.9" />
<path d="M119.7,340.4C119.7,343.7 119.6,353.7 119.5,360.0C119.4,366.3 119.1,375.2 119.0,378.3" fill="none" stroke="#000" stroke-width="1.2" />
<path d="M119.4,428.3C119.8,431.1 121.1,440.1 122.0,445.0C122.9,449.9 123.4,452.7 124.7,457.5C126.0,462.3 127.9,469.7 130.0,474.0C132.1,478.3 134.7,481.3 137.1,483.1C139.5,484.9 142.0,484.7 144.2,484.8C146.4,484.9 149.4,484.1 150.4,484.0" fill="none" stroke="#000" stroke-width="1.3" />
<path d="M188.3,380.6C186.5,383.6 180.9,392.7 177.7,398.3C174.5,403.9 171.8,408.6 168.9,414.2C166.0,419.8 162.4,425.9 160.1,431.8C157.8,437.7 156.1,443.6 154.8,449.5C153.5,455.4 152.7,461.3 152.1,467.2C151.5,473.1 151.3,478.8 151.2,484.8C151.1,490.8 151.4,500.0 151.5,503.0" fill="none" stroke="#000" stroke-width="4.6" />
<path d="M188.3,380.6C186.5,383.6 180.9,392.7 177.7,398.3C174.5,403.9 171.8,408.6 168.9,414.2C166.0,419.8 162.4,425.9 160.1,431.8C157.8,437.7 156.1,443.6 154.8,449.5C153.5,455.4 152.7,461.3 152.1,467.2C151.5,473.1 151.3,478.8 151.2,484.8C151.1,490.8 151.4,500.0 151.5,503.0" fill="none" stroke="#fff" stroke-width="1.6" />
<path d="M119.5,360.0C124.6,363.3 140.1,373.8 150.0,380.0C159.9,386.2 174.2,394.6 179.1,397.5" fill="none" stroke="#000" stroke-width="3.4" />
<path d="M119.5,360.0C124.6,363.3 140.1,373.8 150.0,380.0C159.9,386.2 174.2,394.6 179.1,397.5" fill="none" stroke="#fff" stroke-width="1.1" />
<path d="M117.7,397.0 L166.5,422.5" fill="none" stroke="#000" stroke-width="3.6" />
<path d="M117.7,397.0 L166.5,422.5" fill="none" stroke="#fff" stroke-width="1.2" />
<path d="M119.0,429.0 L158.0,448.0" fill="none" stroke="#000" stroke-width="3.6" />
<path d="M119.0,429.0 L158.0,448.0" fill="none" stroke="#fff" stroke-width="1.2" />
<path d="M124.2,458.0 L152.0,469.0" fill="none" stroke="#000" stroke-width="3.6" />
<path d="M124.2,458.0 L152.0,469.0" fill="none" stroke="#fff" stroke-width="1.2" />
<path d="M117.7,380.6C119.4,381.8 124.8,385.9 128.0,388.0C131.2,390.1 132.6,391.6 137.1,393.0C141.6,394.4 148.2,395.5 155.0,396.5C161.8,397.5 173.9,398.8 177.7,399.2" fill="none" stroke="#000" stroke-width="2.8" />
<path d="M164.5,375.3 L165.3,393.0" fill="none" stroke="#000" stroke-width="2.6" />
<circle cx="164.5" cy="375.3" r="2.8" fill="#000" stroke="#000" stroke-width="1"/>
<path d="M137.1,362.1 L137.9,390.9" fill="none" stroke="#000" stroke-width="2.6" />
<circle cx="137.1" cy="362.1" r="2.8" fill="#000" stroke="#000" stroke-width="1"/>
<path d="M183.0,386.0 L189.0,377.0" fill="none" stroke="#000" stroke-width="1.2" />
<path d="M185.5,387.0 L191.5,378.0" fill="none" stroke="#000" stroke-width="1.2" />
<g transform="translate(209.2,282.6) rotate(12)"><rect x="-4.4" y="-8.8" width="8.8" height="17.6" rx="2.6" fill="#fff" stroke="#000" stroke-width="1.5"/><ellipse cx="-0.3" cy="0" rx="1.4" ry="6" fill="none" stroke="#000" stroke-width="1.2"/></g>
<path d="M363.5,351.5 C363,348.5 366,347 368.5,348 C370.5,349 370,351.5 368,352.5" fill="none" stroke="#000" stroke-width="1.5" />
<ellipse cx="533.6" cy="264.5" rx="4.2" ry="2.6" transform="rotate(-25 533.6 264.5)" fill="none" stroke="#777" stroke-width="1.1" stroke-dasharray="2,1.2"/>
<path d="M419.5,318 C418,314.5 421.5,312 424,314.5 C425.5,316.5 427.5,316.5 429,314.5 C429.5,311.5 433,310.5 434.5,313 C436,315 434.5,317.5 433.5,319 C436,321 437.5,325 436,329 C434,332.5 429,333.5 426.5,331 C425,328.5 426,325.5 424.5,323 C422.5,321.5 420.5,320.5 419.5,318 Z" fill="#fff" stroke="#000" stroke-width="2.2" />
<path d="M428.5,320 C430,322.5 430.5,326 429.5,328.5" fill="none" stroke="#000" stroke-width="1.3" />
<path d="M431.5,318.5 C432.5,321 432.5,324 431.5,326" fill="none" stroke="#000" stroke-width="1.2" />
<path d="M409.4,302.8C408.9,304.2 407.4,307.9 406.5,311.0C405.6,314.1 405.1,317.9 404.2,321.1C403.3,324.3 402.1,327.2 401.0,330.0C399.9,332.8 398.2,336.8 397.7,338.1" fill="none" stroke="#000" stroke-width="3.0" />
<path d="M411.5,303.5C411.0,304.9 409.3,309.0 408.5,312.0C407.7,315.0 407.4,318.3 406.5,321.5C405.6,324.7 404.1,328.1 403.0,331.0C401.9,333.9 400.5,337.7 400.0,339.0" fill="none" stroke="#000" stroke-width="1.2" />
<path d="M397.7,338.1C397.9,336.4 398.1,330.9 399.0,328.0C399.9,325.1 401.5,322.1 403.0,321.0C404.5,319.9 406.4,320.8 408.0,321.5C409.6,322.2 411.6,323.9 412.5,325.5C413.4,327.1 414.0,329.2 413.4,331.0C412.8,332.8 411.0,334.6 409.0,336.0C407.0,337.4 402.8,338.9 401.6,339.5" fill="none" stroke="#000" stroke-width="1.3" />
<path d="M380.7,326.4C381.6,325.8 384.3,322.7 385.9,322.5C387.4,322.3 389.1,323.6 390.0,325.0C390.9,326.4 391.3,328.8 391.1,331.0C390.9,333.2 390.1,336.3 389.0,338.0C387.9,339.7 385.3,340.5 384.6,341.0" fill="none" stroke="#000" stroke-width="2.4" />
<path d="M385.0,330.0C385.3,331.0 386.2,334.3 387.0,336.0C387.8,337.7 389.5,339.3 390.0,340.0" fill="none" stroke="#000" stroke-width="3.0" />
<path d="M382.0,338.0C382.8,338.6 385.2,340.8 387.0,341.5C388.8,342.2 391.2,342.1 393.0,342.0C394.8,341.9 396.9,341.2 397.7,341.0" fill="none" stroke="#000" stroke-width="3.6" />
<path d="M372.8,331.6C373.7,330.3 375.9,325.7 378.1,323.8C380.3,321.9 383.3,321.2 385.9,320.5C388.5,319.8 391.4,319.9 393.8,319.8C396.2,319.7 399.0,320.0 400.0,320.0" fill="none" stroke="#000" stroke-width="1.3" />
<circle cx="414.7" cy="309.4" r="1.8" fill="#fff" stroke="#000" stroke-width="1.3"/>
<text x="172.2" y="165.7" font-family="Liberation Mono" font-size="15" font-weight="bold" stroke="#000" stroke-width="0.3">1</text>
<text x="285.5" y="129.7" font-family="Liberation Mono" font-size="15" font-weight="bold" stroke="#000" stroke-width="0.3">2</text>
<text x="362.8" y="107.3" font-family="Liberation Sans" font-size="14.5" font-weight="bold" stroke="#000" stroke-width="0.3">3</text>
<text x="430.5" y="106" font-family="Liberation Sans" font-size="14.5" font-weight="bold" stroke="#000" stroke-width="0.3">4</text>
<text x="468.3" y="129.6" font-family="Liberation Sans" font-size="14.5" font-weight="bold" stroke="#000" stroke-width="0.3">5</text>
<text x="533.4" y="160.4" font-family="Liberation Sans" font-size="14.5" font-weight="bold" stroke="#000" stroke-width="0.3">6</text>
<text x="566" y="286" font-family="Liberation Sans" font-size="14.5" font-weight="bold" stroke="#000" stroke-width="0.3">7</text>
<text x="534.9" y="329.2" font-family="Liberation Sans" font-size="14.5" font-weight="bold" stroke="#000" stroke-width="0.3">8</text>
<text x="472.4" y="373.8" font-family="Liberation Sans" font-size="14.5" font-weight="bold" stroke="#000" stroke-width="0.3">9</text>
<text x="407.5" y="379.9" font-family="Liberation Mono" font-size="15" font-weight="bold" stroke="#000" stroke-width="0.3">10</text>
<text x="381.7" y="395.2" font-family="Liberation Mono" font-size="15" font-weight="bold" stroke="#000" stroke-width="0.3">11</text>
<text x="345" y="409.4" font-family="Liberation Mono" font-size="15" font-weight="bold" stroke="#000" stroke-width="0.3">12</text>
<text x="288.5" y="429.4" font-family="Liberation Mono" font-size="15" font-weight="bold" stroke="#000" stroke-width="0.3">13</text>
<text x="202.6" y="465.5" font-family="Liberation Mono" font-size="15" font-weight="bold" stroke="#000" stroke-width="0.3">14</text>
<text x="442" y="526.1" font-family="Liberation Mono" font-size="15" font-weight="bold" stroke="#000" stroke-width="0.3">16</text>
<text x="506.8" y="601.4" font-family="Liberation Mono" font-size="15" font-weight="bold" stroke="#000" stroke-width="0.3">17</text>
<text x="88" y="632.2" font-family="Liberation Mono" font-size="15" font-weight="bold" stroke="#000" stroke-width="0.3">18</text>
<text x="94.8" y="509.1" font-family="Liberation Mono" font-size="15" font-weight="bold" stroke="#000" stroke-width="0.3">19</text>
<text x="67.5" y="478.6" font-family="Liberation Sans" font-size="14.5" font-weight="bold" stroke="#000" stroke-width="0.3">20</text>
<text x="82.7" y="442.2" font-family="Liberation Sans" font-size="14.5" font-weight="bold" stroke="#000" stroke-width="0.3">21</text>
<text x="85" y="230" font-family="Liberation Sans" font-size="14.5" font-weight="bold" stroke="#000" stroke-width="0.3">22</text>
<text x="109.2" y="201.3" font-family="Liberation Sans" font-size="14.5" font-weight="bold" stroke="#000" stroke-width="0.3">23</text>
<text x="309.8" y="702.2" font-family="Liberation Serif" font-size="24" font-weight="normal" stroke="#000" stroke-width="0.35">D014SA</text>
<path d="M430.7,519.6L407.4,521.8" stroke="#000" stroke-width="1.8" fill="none"/>
<path d="M395.5,522.9Q403.1,518.7 410.9,515.8L407.4,521.8L412.0,527.0Q403.8,525.6 395.5,522.9Z" fill="#000" stroke="#000" stroke-width="0.8" stroke-linejoin="round"/>
<path d="M499.8,597.6L487.2,599.8" stroke="#000" stroke-width="1.8" fill="none"/>
<path d="M475.4,601.9Q482.7,597.1 490.2,593.6L487.2,599.8L492.1,604.6Q483.9,603.9 475.4,601.9Z" fill="#000" stroke="#000" stroke-width="0.8" stroke-linejoin="round"/>
<path d="M117.2,624.5L166.1,624.7" stroke="#000" stroke-width="1.8" fill="none"/>
<path d="M178.1,624.7Q170.1,628.1 162.1,630.2L166.1,624.7L162.1,619.0Q170.1,621.2 178.1,624.7Z" fill="#000" stroke="#000" stroke-width="0.8" stroke-linejoin="round"/>
<path d="M125.4,503.5L136.1,505.1" stroke="#000" stroke-width="1.8" fill="none"/>
<path d="M148.0,506.9Q139.6,509.1 131.3,510.1L136.1,505.1L133.0,499.0Q140.6,502.3 148.0,506.9Z" fill="#000" stroke="#000" stroke-width="0.8" stroke-linejoin="round"/>
<path d="M91.8,463.3L109.5,455.8" stroke="#000" stroke-width="1.8" fill="none"/>
<path d="M120.6,451.2Q114.6,457.5 108.0,462.6L109.5,455.8L103.7,452.2Q111.9,451.1 120.6,451.2Z" fill="#000" stroke="#000" stroke-width="0.8" stroke-linejoin="round"/>
<path d="M111.5,431.5L137.5,407.8" stroke="#000" stroke-width="1.8" fill="none"/>
<path d="M146.4,399.7Q142.8,407.7 138.3,414.6L137.5,407.8L130.8,406.3Q138.1,402.5 146.4,399.7Z" fill="#000" stroke="#000" stroke-width="0.8" stroke-linejoin="round"/>
<path d="M214.5,445.2L221.4,393.9" stroke="#000" stroke-width="1.8" fill="none"/>
<path d="M223.0,382.0Q225.4,390.4 226.4,398.6L221.4,393.9L215.3,397.1Q218.5,389.5 223.0,382.0Z" fill="#000" stroke="#000" stroke-width="0.8" stroke-linejoin="round"/>
<path d="M295.7,414.3L289.0,399.1" stroke="#000" stroke-width="1.8" fill="none"/>
<path d="M284.2,388.1Q290.6,394.0 295.8,400.5L289.0,399.1L285.5,405.0Q284.2,396.8 284.2,388.1Z" fill="#000" stroke="#000" stroke-width="0.8" stroke-linejoin="round"/>
<path d="M346.1,394.2L318.3,369.1" stroke="#000" stroke-width="1.8" fill="none"/>
<path d="M309.4,361.1Q317.7,363.9 325.0,367.7L318.3,369.1L317.5,376.0Q313.0,369.0 309.4,361.1Z" fill="#000" stroke="#000" stroke-width="0.8" stroke-linejoin="round"/>
<path d="M395.7,375.5L379.3,360.3" stroke="#000" stroke-width="1.8" fill="none"/>
<path d="M370.5,352.1Q378.7,355.0 386.0,358.9L379.3,360.3L378.4,367.1Q374.0,360.1 370.5,352.1Z" fill="#000" stroke="#000" stroke-width="0.8" stroke-linejoin="round"/>
<path d="M408.5,365.8L398.7,354.2" stroke="#000" stroke-width="1.8" fill="none"/>
<path d="M391.0,345.0Q398.8,348.9 405.6,353.6L398.7,354.2L397.0,360.8Q393.5,353.4 391.0,345.0Z" fill="#000" stroke="#000" stroke-width="0.8" stroke-linejoin="round"/>
<path d="M468.2,354.4L442.4,339.5" stroke="#000" stroke-width="1.8" fill="none"/>
<path d="M432.0,333.5Q440.7,334.5 448.7,336.7L442.4,339.5L443.1,346.3Q437.2,340.5 432.0,333.5Z" fill="#000" stroke="#000" stroke-width="0.8" stroke-linejoin="round"/>
<path d="M528.7,313.5L476.0,246.9" stroke="#000" stroke-width="1.8" fill="none"/>
<path d="M468.6,237.5Q476.3,241.6 482.9,246.6L476.0,246.9L474.1,253.5Q470.8,245.9 468.6,237.5Z" fill="#000" stroke="#000" stroke-width="0.8" stroke-linejoin="round"/>
<path d="M556.5,279.2L546.1,274.4" stroke="#000" stroke-width="1.8" fill="none"/>
<path d="M535.2,269.4Q543.9,269.6 552.1,271.0L546.1,274.4L547.4,281.2Q541.0,275.9 535.2,269.4Z" fill="#000" stroke="#000" stroke-width="0.8" stroke-linejoin="round"/>
<path d="M524.6,153.1L475.0,158.4" stroke="#000" stroke-width="1.8" fill="none"/>
<path d="M463.1,159.7Q470.7,155.4 478.4,152.4L475.0,158.4L479.6,163.6Q471.4,162.3 463.1,159.7Z" fill="#000" stroke="#000" stroke-width="0.8" stroke-linejoin="round"/>
<path d="M460.5,124.4L449.2,129.7" stroke="#000" stroke-width="1.8" fill="none"/>
<path d="M438.3,134.8Q444.1,128.3 450.4,122.9L449.2,129.7L455.2,133.1Q447.0,134.6 438.3,134.8Z" fill="#000" stroke="#000" stroke-width="0.8" stroke-linejoin="round"/>
<path d="M428.5,112.0L382.0,161.7" stroke="#000" stroke-width="1.8" fill="none"/>
<path d="M373.8,170.5Q376.7,162.3 380.6,155.0L382.0,161.7L388.8,162.6Q381.8,167.0 373.8,170.5Z" fill="#000" stroke="#000" stroke-width="0.8" stroke-linejoin="round"/>
<path d="M377.5,106.5L383.7,112.0" stroke="#000" stroke-width="1.8" fill="none"/>
<path d="M392.7,120.0Q384.4,117.3 377.0,113.6L383.7,112.0L384.5,105.2Q389.0,112.1 392.7,120.0Z" fill="#000" stroke="#000" stroke-width="0.8" stroke-linejoin="round"/>
<path d="M296.8,134.1L326.9,221.7" stroke="#000" stroke-width="1.8" fill="none"/>
<path d="M330.8,233.0Q324.9,226.6 320.3,219.7L326.9,221.7L330.9,216.0Q331.5,224.3 330.8,233.0Z" fill="#000" stroke="#000" stroke-width="0.8" stroke-linejoin="round"/>
<path d="M190.0,162.5L287.8,194.1" stroke="#000" stroke-width="1.8" fill="none"/>
<path d="M299.2,197.8Q290.5,198.6 282.3,198.2L287.8,194.1L285.7,187.6Q292.7,192.0 299.2,197.8Z" fill="#000" stroke="#000" stroke-width="0.8" stroke-linejoin="round"/>
<path d="M129.2,198.8L195.1,268.0" stroke="#000" stroke-width="1.8" fill="none"/>
<path d="M203.4,276.7Q195.4,273.3 188.3,269.0L195.1,268.0L196.4,261.3Q200.4,268.5 203.4,276.7Z" fill="#000" stroke="#000" stroke-width="0.8" stroke-linejoin="round"/>
<path d="M113.5,228.6L159.4,268.7" stroke="#000" stroke-width="1.8" fill="none"/>
<path d="M168.4,276.6Q160.1,273.9 152.7,270.3L159.4,268.7L160.0,261.9Q164.7,268.7 168.4,276.6Z" fill="#000" stroke="#000" stroke-width="0.8" stroke-linejoin="round"/>
</svg>
</body></html>
